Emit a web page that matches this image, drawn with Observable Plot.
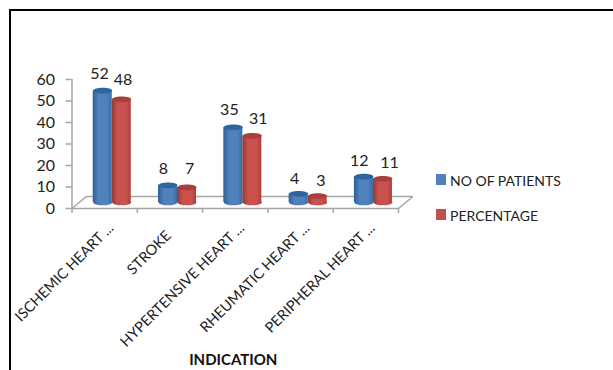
<!DOCTYPE html>
<html>
<head>
<meta charset="utf-8">
<script src="https://cdn.jsdelivr.net/npm/d3@7"></script>
<script src="https://cdn.jsdelivr.net/npm/@observablehq/plot@0.6"></script>
<style>
  html, body { margin: 0; padding: 0; background: #fff; }
  #page { position: relative; width: 613px; height: 370px; overflow: hidden; font-family: Lato, sans-serif; }
  #page svg { position: absolute; left: 0; top: 0; }
  #border { position: absolute; left: 9px; top: 9px; right: 0; bottom: -4px; border: 2px solid #000; border-right: none; border-bottom: none; }
  .key { position: absolute; left: 436px; display: flex; align-items: center; font-size: 14px; color: #222; white-space: nowrap; }
  .key i { display: block; width: 10px; height: 11px; margin-right: 4px; }
</style>
</head>
<body>
<div id="page"><div id="border"></div></div>
<script>
const categories = ["ISCHEMIC HEART ...", "STROKE", "HYPERTENSIVE HEART ...", "RHEUMATIC HEART ...", "PERIPHERAL HEART ..."];
const patients = [52, 8, 35, 4, 12];
const percentage = [48, 7, 31, 3, 11];
const yTicks = [0, 10, 20, 30, 40, 50, 60];
const seriesNames = ["NO OF PATIENTS", "PERCENTAGE"];
const seriesColors = ["#4f81bd", "#c0504d"];

// Depth of the floor in axis units, and where the cylinders stand on it.
const depthX = 0.22, depthY = 5.6;
const baseY = 2.8;
const barW = 0.291, barStart = 0.325;

const rows = categories.flatMap((c, i) => [
  {i, s: 0, c, v: patients[i]},
  {i, s: 1, c, v: percentage[i]}
]);
const cx = d => d.i + barStart + barW * (d.s + 0.5);

// Hand placement of the value labels beside each cylinder, in axis units.
const labelNudgeX = [[-0.05, 0.02], [-0.07, 0.04], [-0.06, 0.09], [-0.06, 0.05], [-0.07, 0.1]];
const labelNudgeY = [[7.8, 9.2], [7.4, 8.4], [7.9, 8], [7, 7], [7.4, 7.4]];

// A flat ellipse drawn as a custom dot symbol, for the cylinder ends.
const ellipse = {
  draw(ctx, size) {
    const rx = Math.sqrt(size / Math.PI), ry = rx * 0.3, k = 0.5523;
    ctx.moveTo(-rx, 0);
    ctx.bezierCurveTo(-rx, -k * ry, -k * rx, -ry, 0, -ry);
    ctx.bezierCurveTo(k * rx, -ry, rx, -k * ry, rx, 0);
    ctx.bezierCurveTo(rx, k * ry, k * rx, ry, 0, ry);
    ctx.bezierCurveTo(-k * rx, ry, -rx, k * ry, -rx, 0);
    ctx.closePath();
  }
};

// Horizontal shading that makes a flat rectangle read as a cylinder.
function gradients() {
  const defs = d3.create("svg:defs");
  [["cylBlue", "#2f5f98", "#4f81bd", "#3a6ca8"], ["cylRed", "#93392f", "#c9524f", "#a83f3c"]].forEach(([id, a, b, c]) => {
    const g = defs.append("linearGradient").attr("id", id);
    g.append("stop").attr("offset", "0%").attr("stop-color", a);
    g.append("stop").attr("offset", "30%").attr("stop-color", b);
    g.append("stop").attr("offset", "75%").attr("stop-color", b);
    g.append("stop").attr("offset", "100%").attr("stop-color", c);
  });
  return defs.node();
}
const bodyFill = d => d.s === 0 ? "url(#cylBlue)" : "url(#cylRed)";
const capFill = d => d.s === 0 ? "#2f659f" : "#a93f3b";
const axisGrey = "#a6a6a6";

const chart = Plot.plot({
  width: 613,
  height: 370,
  marginLeft: 71.5,
  marginRight: 215,
  marginTop: 79,
  marginBottom: 162,
  style: {background: "transparent", fontFamily: "Lato, sans-serif", overflow: "visible"},
  x: {type: "linear", domain: [0, categories.length], axis: null},
  y: {domain: [0, 60], axis: null},
  marks: [
    gradients,
    // Floor outline
    Plot.ruleX([0], {y1: 0, y2: 60, stroke: axisGrey, strokeWidth: 1.5}),
    Plot.ruleY([0], {x1: 0, x2: 5, stroke: axisGrey, strokeWidth: 1.5}),
    Plot.ruleY([depthY], {x1: depthX, x2: 5 + depthX, stroke: axisGrey, strokeWidth: 1.5}),
    Plot.link([0, 5], {x1: d => d, y1: 0, x2: d => d + depthX, y2: depthY, stroke: axisGrey, strokeWidth: 1.5}),
    // Axis ticks
    Plot.axisY(yTicks, {anchor: "left", tickSize: 6, tickPadding: 11, stroke: axisGrey, strokeWidth: 1.5, fontSize: 16, color: "#222", label: null}),
    Plot.axisX(d3.range(0, 6), {anchor: "bottom", tickSize: 5, stroke: axisGrey, strokeWidth: 1.5, tickFormat: () => "", label: null}),
    // Cylinders: lower end, body, then upper end
    Plot.dot(rows, {x: cx, y: baseY, r: 9.5, symbol: ellipse, fill: bodyFill}),
    Plot.rect(rows, {x1: d => cx(d) - barW / 2, x2: d => cx(d) + barW / 2, y1: baseY, y2: d => baseY + d.v, fill: bodyFill}),
    Plot.dot(rows, {x: cx, y: d => baseY + d.v, r: 9.5, symbol: ellipse, fill: capFill}),
    // Value labels
    Plot.text(rows, {
      x: d => cx(d) + labelNudgeX[d.i][d.s],
      y: d => baseY + d.v + labelNudgeY[d.i][d.s],
      text: d => String(d.v),
      fontSize: 16,
      fill: "#222"
    }),
    // Slanted category labels; the short one sits further down its slant
    Plot.text(categories, {
      x: (d, i) => i + (i === 1 ? 0.48 : 0.6),
      y: (d, i) => (i === 1 ? -11.5 : -8),
      text: d => d,
      rotate: -45,
      textAnchor: "end",
      fontSize: 14.5,
      fill: "#222"
    }),
    Plot.text(["INDICATION"], {x: 2.47, y: -70.5, text: d => d, fontSize: 15, fontWeight: "bold", fill: "#111"})
  ]
});

const page = document.getElementById("page");
page.appendChild(chart);

// Legend to the right of the plot
seriesNames.forEach((name, i) => {
  const el = document.createElement("div");
  el.className = "key";
  el.style.top = (i === 0 ? 172 : 207) + "px";
  const swatch = document.createElement("i");
  swatch.style.background = seriesColors[i];
  swatch.style.marginTop = "-2px";
  el.appendChild(swatch);
  el.appendChild(document.createTextNode(name));
  page.appendChild(el);
});
</script>
</body>
</html>
